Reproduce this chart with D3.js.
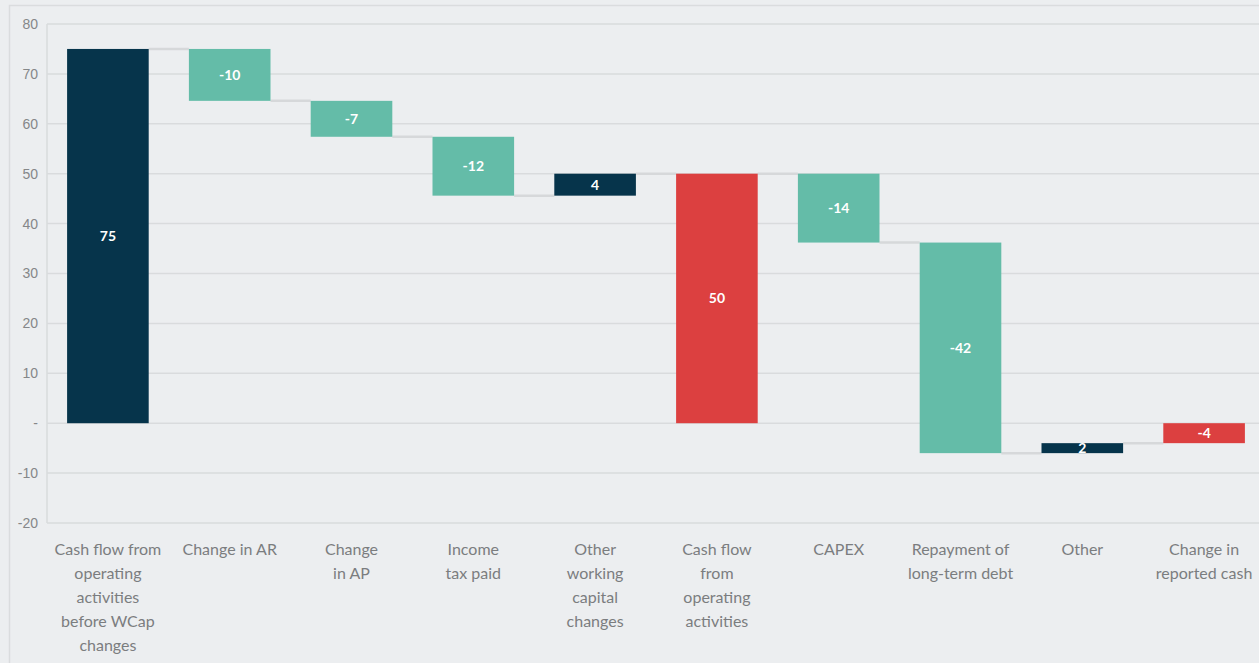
<!DOCTYPE html>
<html>
<head>
<meta charset="utf-8">
<script src="https://cdn.jsdelivr.net/npm/d3@7"></script>
<style>
  html, body { margin: 0; padding: 0; background: #eceef0; overflow: hidden; }
  svg { display: block; font-family: Lato, "Open Sans", sans-serif; }
</style>
</head>
<body>
<svg id="chart" width="1259" height="663"></svg>
<script>
// waterfall data
var categories = [
    ["Cash flow from", "operating", "activities", "before WCap", "changes"],
    ["Change in AR"],
    ["Change", "in AP"],
    ["Income", "tax paid"],
    ["Other", "working", "capital", "changes"],
    ["Cash flow", "from", "operating", "activities"],
    ["CAPEX"],
    ["Repayment of", "long-term debt"],
    ["Other"],
    ["Change in", "reported cash"]
];
var kinds = ["base", "step", "step", "step", "step", "total", "step", "step", "step", "total"];
var values = [75, -10.4, -7.2, -11.8, 4.4, null, -13.8, -42.2, 2.0, null];
var yTicks = [-20, -10, 0, 10, 20, 30, 40, 50, 60, 70, 80];

var colors = { base: "#06344b", up: "#06344b", down: "#64bca8", total: "#dc4040" };

var svg = d3.select("#chart");
var width = 1259, height = 663;
var margin = { left: 47, right: -6, top: 24, bottom: 140 };

// build running totals
var running = 0;
var bars = categories.map(function(c, i) {
    var b = { i: i, lines: c, kind: kinds[i] };
    if (kinds[i] === "total") {
        b.y0 = 0; b.y1 = running; b.value = running;
        b.color = colors.total;
    } else {
        b.y0 = running; running += values[i]; b.y1 = running; b.value = values[i];
        b.color = kinds[i] === "base" ? colors.base : (values[i] >= 0 ? colors.up : colors.down);
    }
    b.end = running;
    return b;
});

var x = d3.scaleBand()
    .domain(d3.range(categories.length))
    .range([margin.left, width - margin.right])
    .paddingInner(0.33)
    .paddingOuter(0.165);

var y = d3.scaleLinear()
    .domain([-20, 80])
    .range([height - margin.bottom, margin.top]);

// outer frame
svg.append("path")
    .attr("d", "M9.5," + height + "V5.5H" + width)
    .attr("fill", "none")
    .attr("stroke", "#dadcde")
    .attr("stroke-width", 1.5);

// gridlines
svg.append("g").selectAll("line")
    .data(yTicks)
    .join("line")
    .attr("x1", margin.left)
    .attr("x2", width)
    .attr("y1", function(d) { return y(d); })
    .attr("y2", function(d) { return y(d); })
    .attr("stroke", "#d9dbdd")
    .attr("stroke-width", 1.5);

svg.append("line")
    .attr("x1", margin.left).attr("x2", margin.left)
    .attr("y1", y(80)).attr("y2", y(-20))
    .attr("stroke", "#d9dbdd")
    .attr("stroke-width", 1.5);

// y axis labels, zero shown as a dash
var yAxis = d3.axisLeft(y)
    .tickValues(yTicks)
    .tickSize(0)
    .tickPadding(9)
    .tickFormat(function(d) { return d === 0 ? "-" : String(d); });

svg.append("g")
    .attr("transform", "translate(" + margin.left + ",0)")
    .call(yAxis)
    .call(function(g) { g.select(".domain").remove(); })
    .selectAll("text")
    .attr("fill", "#858789")
    .style("font-size", "14px");

// connectors
svg.append("g").selectAll("line")
    .data(bars.slice(0, -1))
    .join("line")
    .attr("x1", function(d) { return x(d.i) + x.bandwidth(); })
    .attr("x2", function(d) { return x(d.i + 1); })
    .attr("y1", function(d) { return y(d.end); })
    .attr("y2", function(d) { return y(d.end); })
    .attr("stroke", "#d6d8da")
    .attr("stroke-width", 2.5);

// bars
svg.append("g").selectAll("rect")
    .data(bars)
    .join("rect")
    .attr("x", function(d) { return x(d.i); })
    .attr("width", x.bandwidth())
    .attr("y", function(d) { return y(Math.max(d.y0, d.y1)); })
    .attr("height", function(d) { return Math.abs(y(d.y0) - y(d.y1)); })
    .attr("fill", function(d) { return d.color; });

// value labels (plain hyphen, not unicode minus)
var fmt = d3.formatLocale({ decimal: ".", thousands: ",", grouping: [3], currency: ["", ""], minus: "-" }).format(".0f");
svg.append("g").selectAll("text")
    .data(bars)
    .join("text")
    .attr("x", function(d) { return x(d.i) + x.bandwidth() / 2; })
    .attr("y", function(d) { return (y(d.y0) + y(d.y1)) / 2; })
    .attr("dy", "0.36em")
    .attr("text-anchor", "middle")
    .attr("fill", "#ffffff")
    .style("font-size", "14px")
    .style("font-weight", "bold")
    .text(function(d) { return fmt(d.value); });

// category labels
var catG = svg.append("g").selectAll("text")
    .data(bars)
    .join("text")
    .attr("text-anchor", "middle")
    .attr("fill", "#7b7d7f")
    .style("font-size", "16px")
    .attr("transform", function(d) { return "translate(" + (x(d.i) + x.bandwidth() / 2) + "," + (y(-20) + 32) + ")"; });

catG.selectAll("tspan")
    .data(function(d) { return d.lines; })
    .join("tspan")
    .attr("x", 0)
    .attr("y", function(d, i) { return i * 24; })
    .text(function(d) { return d; });
</script>
</body>
</html>
